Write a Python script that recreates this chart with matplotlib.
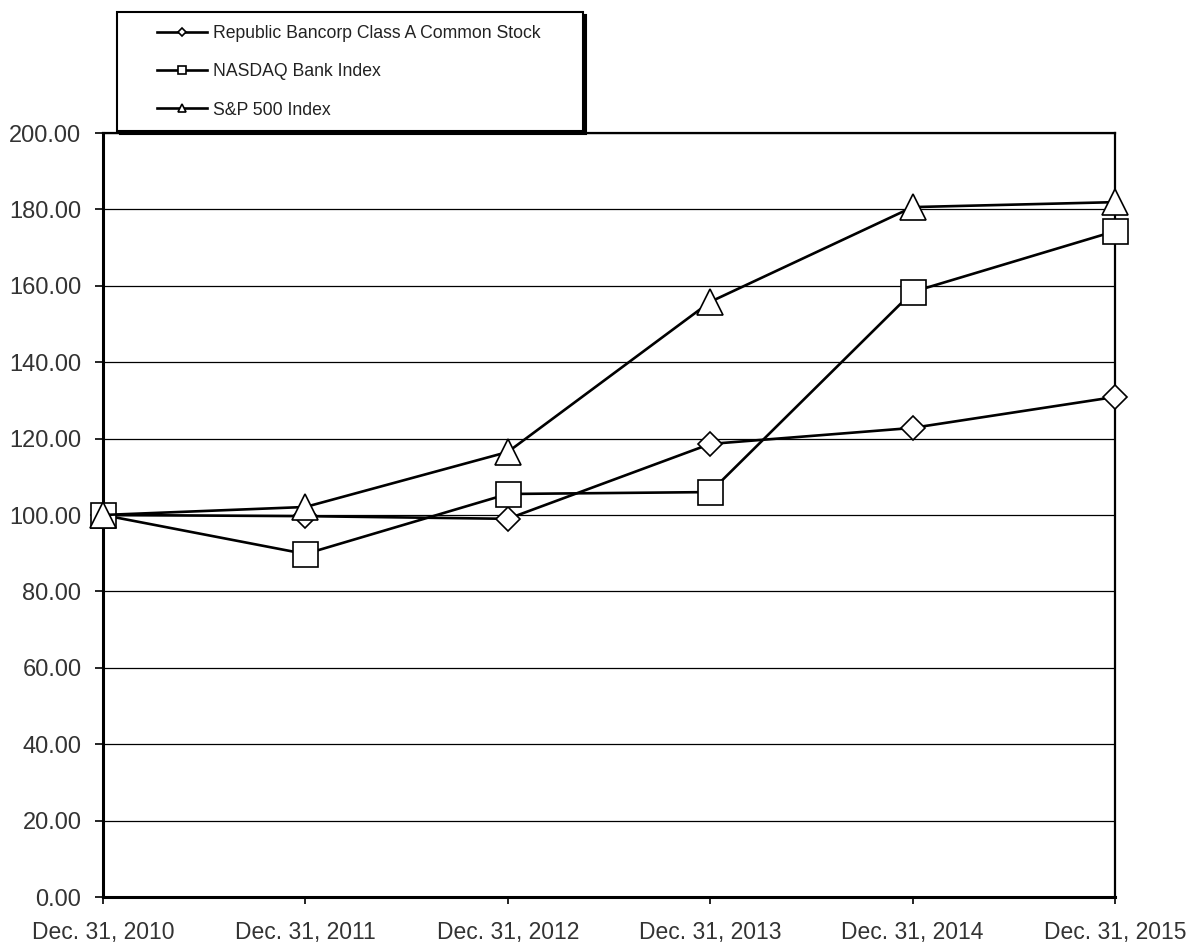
import numpy as np
import matplotlib.pyplot as plt
from matplotlib.legend_handler import HandlerLine2D

# dados
anos = ["Dec. 31, 2010", "Dec. 31, 2011", "Dec. 31, 2012",
        "Dec. 31, 2013", "Dec. 31, 2014", "Dec. 31, 2015"]
republic = [100.00, 99.7, 99.0, 118.6, 122.8, 130.9]
nasdaq_bank = [100.00, 89.8, 105.5, 106.0, 158.4, 174.3]
sp500 = [100.00, 102.1, 116.5, 155.8, 180.6, 181.9]


# handler com recuo a esquerda, para a linha da legenda nao colar na borda
class HandlerRecuo(HandlerLine2D):
    def create_artists(self, legend, orig_handle, xdescent, ydescent,
                       width, height, fontsize, trans):
        recuo = 1.53 * fontsize
        return super().create_artists(legend, orig_handle, xdescent - recuo, ydescent,
                                      width - recuo, height, fontsize, trans)


plt.rcParams['font.family'] = ['Liberation Sans', 'DejaVu Sans']

fig = plt.figure(figsize=(11.93, 9.44), dpi=100)
ax = fig.add_axes([103/1193, 47/944, 1012/1193, 764/944])

x = np.arange(len(anos))
estilo = dict(color='black', lw=1.9, markerfacecolor='white',
              markeredgecolor='black', markeredgewidth=1.2, clip_on=False, zorder=3)
l1, = ax.plot(x, republic, marker='D', ms=12.5, label="Republic Bancorp Class A Common Stock", **estilo)
l2, = ax.plot(x, nasdaq_bank, marker='s', ms=18, label="NASDAQ Bank Index", **estilo)
l3, = ax.plot(x, sp500, marker='^', ms=19, label="S&P 500 Index", **estilo)

ax.set_xlim(0, 5)
ax.set_ylim(0, 200)
ax.set_yticks(np.arange(0, 201, 20))
ax.set_yticklabels(["%.2f" % v for v in np.arange(0, 201, 20)])
ax.set_xticks(x)
ax.set_xticklabels(anos)
ax.yaxis.grid(True, color='black', lw=0.9)
ax.set_axisbelow(True)

for lado in ['left', 'bottom']:
    ax.spines[lado].set_linewidth(2.2)
for lado in ['top', 'right']:
    ax.spines[lado].set_linewidth(1.6)

ax.tick_params(axis='y', direction='out', length=6, width=1.2, labelsize=17,
               labelcolor='#333333', pad=9.5)
ax.tick_params(axis='x', direction='out', length=5, width=1.2, labelsize=16.5,
               labelcolor='#333333', pad=12)

leg = fig.legend(handles=[l1, l2, l3], loc='upper left',
                 bbox_to_anchor=(117/1193, 1 - 12/944 - 0.01, 466/1193, 0.01), mode='expand',
                 fontsize=12.7, handlelength=4.375, markerscale=0.3, labelspacing=1.215,
                 borderpad=0.72, handletextpad=0.34, fancybox=False, framealpha=1,
                 edgecolor='black', borderaxespad=0,
                 handler_map={l1: HandlerRecuo(), l2: HandlerRecuo(), l3: HandlerRecuo()},
                 shadow={'color': 'black', 'alpha': 1})
leg.get_frame().set_linewidth(1.5)
for t in leg.get_texts():
    t.set_color('#222222')

fig.savefig("out.png", dpi=100)
